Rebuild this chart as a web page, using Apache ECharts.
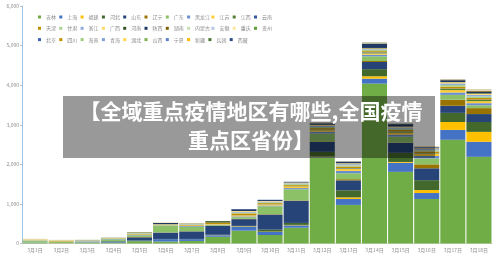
<!DOCTYPE html>
<html>
<head>
<meta charset="utf-8">
<script src="https://cdn.jsdelivr.net/npm/echarts@6/dist/echarts.min.js"></script>
<style>
    html, body { margin: 0; padding: 0; background: #fff; }
    #chart { width: 500px; height: 256px; }
</style>
</head>
<body>
<div id="chart"></div>
<script>
// 日期
const categories = ['3月1日', '3月2日', '3月3日', '3月4日', '3月5日', '3月6日', '3月7日', '3月8日', '3月9日',
    '3月10日', '3月11日', '3月12日', '3月13日', '3月14日', '3月15日', '3月16日', '3月17日', '3月18日'];

const yTicks = [0, 1000, 2000, 3000, 4000, 5000, 6000];

const provinces = ['吉林', '上海', '福建', '河北', '山东', '辽宁', '广东', '黑龙江', '江苏', '江西', '云南',
    '天津', '甘肃', '浙江', '广西', '河南', '陕西', '湖南', '内蒙古', '安徽', '重庆', '贵州',
    '北京', '四川', '海南', '青海', '湖北', '山西', '宁夏', '新疆', '兵团', '西藏'];

// 各省每日新增
const jilin = [10, 5, 15, 20, 60, 50, 65, 170, 325, 215, 400, 2165, 975, 4040, 1810, 1125, 2620, 2190];
const shanghai = [2, 3, 10, 10, 10, 60, 45, 40, 100, 75, 60, 15, 150, 125, 230, 150, 250, 380];
const fujian = [0, 5, 0, 0, 0, 0, 0, 5, 10, 10, 10, 15, 40, 60, 20, 75, 200, 250];
const hebei = [2, 0, 0, 0, 5, 5, 5, 5, 10, 50, 50, 120, 180, 180, 230, 250, 230, 250];
const shandong = [5, 0, 5, 25, 80, 160, 190, 230, 170, 380, 560, 250, 250, 180, 250, 300, 180, 200];
const liaoning = [0, 0, 0, 0, 10, 5, 5, 5, 10, 10, 10, 15, 30, 25, 10, 100, 150, 150];
const guangdong = [40, 30, 20, 50, 40, 170, 110, 20, 40, 200, 280, 200, 150, 120, 150, 150, 125, 70];
const heilongjiang = [10, 5, 10, 10, 15, 10, 20, 5, 20, 20, 30, 40, 60, 40, 50, 60, 60, 55];
const jiangsu = [5, 5, 5, 5, 10, 10, 15, 10, 30, 25, 40, 40, 50, 30, 50, 60, 60, 50];
const jiangxi = [0, 0, 0, 0, 0, 0, 0, 0, 0, 0, 0, 5, 10, 20, 20, 10, 30, 30];
const yunnan = [0, 0, 0, 0, 0, 0, 0, 0, 5, 5, 5, 10, 10, 10, 10, 5, 10, 10];
const tianjin = [5, 15, 5, 10, 15, 10, 15, 40, 40, 30, 30, 40, 40, 30, 40, 40, 50, 40];
const gansu = [10, 5, 0, 10, 15, 10, 15, 0, 20, 20, 25, 30, 30, 30, 30, 30, 40, 40];
const zhejiang = [10, 5, 10, 10, 10, 0, 15, 0, 20, 20, 20, 30, 30, 20, 30, 30, 40, 40];
const guangxi = [15, 10, 5, 5, 10, 0, 10, 0, 20, 15, 20, 20, 20, 20, 20, 20, 30, 30];
const henan = [0, 0, 5, 0, 10, 0, 5, 35, 0, 0, 0, 5, 5, 10, 5, 0, 5, 15];
const shaanxi = [0, 0, 0, 0, 0, 30, 0, 0, 45, 25, 15, 35, 35, 100, 60, 25, 45, 35];
const hunan = [0, 0, 0, 0, 0, 0, 0, 0, 0, 0, 0, 5, 5, 10, 5, 0, 5, 20];
const neimenggu = [5, 5, 5, 5, 0, 0, 0, 0, 0, 0, 0, 0, 0, 0, 5, 0, 0, 0];
const anhui = [0, 0, 0, 0, 0, 0, 0, 0, 0, 0, 0, 5, 5, 10, 5, 5, 5, 5];
const chongqing = [0, 0, 0, 0, 0, 10, 0, 0, 0, 0, 0, 0, 0, 0, 0, 0, 0, 15];
const guizhou = [0, 0, 0, 0, 0, 0, 0, 0, 0, 0, 0, 0, 0, 5, 0, 0, 0, 0];
const beijing = [0, 0, 0, 0, 0, 0, 0, 0, 5, 5, 5, 5, 5, 5, 5, 5, 5, 5];
const sichuan = [0, 0, 0, 0, 0, 0, 0, 0, 0, 0, 0, 5, 0, 5, 0, 5, 5, 5];
const hainan = [0, 0, 0, 0, 0, 0, 0, 0, 0, 0, 0, 0, 0, 0, 0, 0, 0, 0];
const qinghai = [0, 0, 0, 0, 0, 0, 0, 0, 0, 0, 0, 0, 0, 5, 0, 0, 5, 5];
const hubei = [0, 0, 0, 0, 0, 0, 0, 0, 0, 0, 0, 0, 5, 5, 5, 5, 5, 5];
const shanxi = [0, 0, 0, 0, 0, 0, 0, 0, 0, 0, 0, 0, 0, 0, 0, 0, 0, 0];
const ningxia = [0, 0, 0, 0, 0, 0, 0, 0, 0, 0, 0, 0, 0, 0, 0, 0, 0, 0];
const xinjiang = [0, 0, 0, 0, 0, 0, 0, 0, 0, 0, 0, 0, 0, 0, 0, 0, 0, 0];
const bingtuan = [0, 0, 0, 0, 0, 0, 0, 0, 0, 0, 0, 0, 0, 0, 0, 0, 0, 0];
const xizang = [0, 0, 0, 0, 0, 0, 0, 0, 0, 0, 0, 0, 0, 0, 0, 0, 0, 0];

const seriesData = [jilin, shanghai, fujian, hebei, shandong, liaoning, guangdong, heilongjiang, jiangsu, jiangxi, yunnan,
    tianjin, gansu, zhejiang, guangxi, henan, shaanxi, hunan, neimenggu, anhui, chongqing, guizhou,
    beijing, sichuan, hainan, qinghai, hubei, shanxi, ningxia, xinjiang, bingtuan, xizang];

const colors = ['#70AD47', '#4472C4', '#FFC000', '#43682B', '#264478', '#997300', '#8CC168', '#698ED0', '#FFCD33', '#548235', '#335AA1',
    '#BF9000', '#A9D18E', '#8FAADC', '#FFD966', '#375623', '#1F3864', '#7F6000', '#C5E0B4', '#B4C7E7', '#FFE699', '#5E9C3A',
    '#3A63B5', '#C09000', '#9DCB7D', '#7F9FD8', '#FFD54F', '#7CB451', '#5A83CC', '#FFB900', '#4B7530', '#2B4C85'];

const font = '"Noto Sans CJK SC", "Noto Sans", sans-serif';

const option = {
    animation: false,
    color: colors,
    textStyle: { fontFamily: font },
    legend: {
        data: provinces,
        left: 38,
        top: 12,
        width: 246,
        padding: 0,
        itemWidth: 3,
        itemHeight: 3,
        itemGap: 1.3,
        icon: 'rect',
        textStyle: {
            color: '#8c8c8c',
            fontSize: 5,
            width: 12,
            lineHeight: 10,
            fontFamily: font,
        },
    },
    grid: {
        left: 22,
        right: 8,
        top: 6,
        bottom: 12.5,
        containLabel: false,
    },
    xAxis: {
        type: 'category',
        data: categories,
        axisLine: { lineStyle: { color: '#d9d9d9', width: 1 } },
        axisTick: { show: false },
        axisLabel: {
            color: '#8c8c8c',
            fontSize: 5,
            margin: 4,
            fontFamily: font,
        },
    },
    yAxis: {
        type: 'value',
        min: yTicks[0],
        max: yTicks[yTicks.length - 1],
        interval: 1000,
        axisLine: { show: true, lineStyle: { color: '#9DC3E6', width: 1 } },
        axisTick: { show: true, length: 2, lineStyle: { color: '#bfbfbf' } },
        splitLine: { show: false },
        axisLabel: {
            color: '#8c8c8c',
            fontSize: 5,
            margin: 3,
            fontFamily: font,
        },
    },
    series: seriesData.map((d, i) => ({
        name: provinces[i],
        type: 'bar',
        stack: 'total',
        barCategoryGap: '4%',
        data: d,
        itemStyle: { color: colors[i] },
    })),
    graphic: [
        {
            type: 'rect',
            z: 100,
            shape: { x: 63, y: 96, width: 372, height: 62 },
            style: { fill: 'rgba(0,0,0,0.4)' },
        },
        {
            type: 'text',
            z: 101,
            x: 251,
            y: 97,
            style: {
                text: '【全域重点疫情地区有哪些,全国疫情\n重点区省份】',
                fill: '#fff',
                font: 'bold 21px ' + font,
                lineHeight: 29,
                align: 'center',
                verticalAlign: 'top',
            },
        },
    ],
};

let myChart = echarts.init(document.getElementById('chart'));
myChart.setOption(option);
</script>
</body>
</html>
